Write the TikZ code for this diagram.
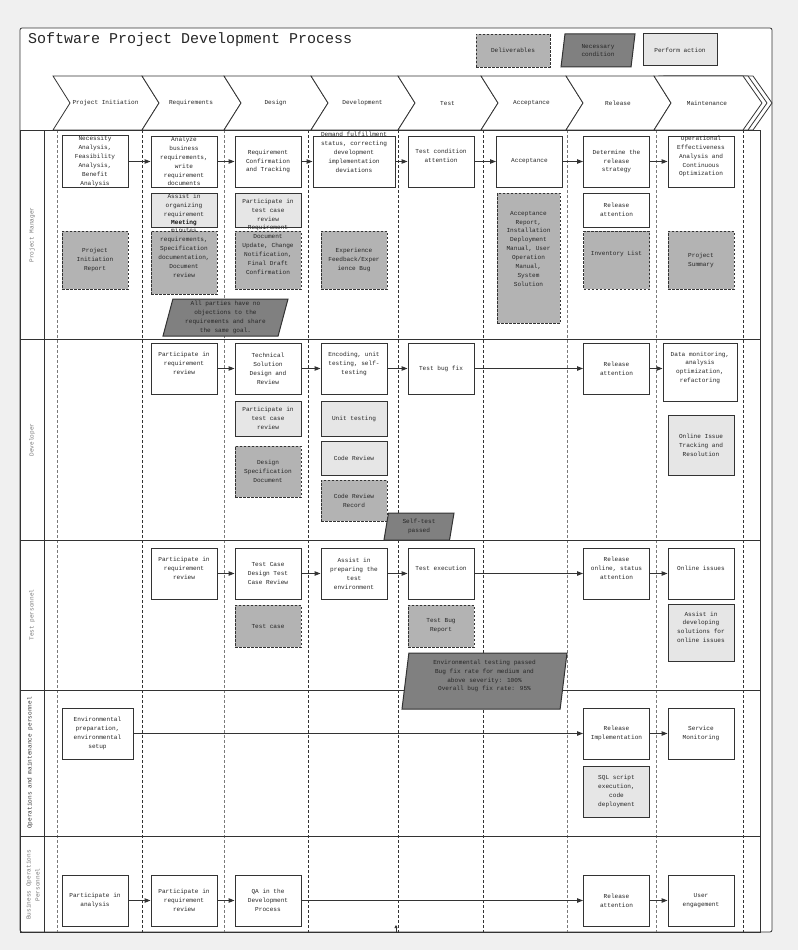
\documentclass[tikz,border=0pt]{standalone}
\usepackage{fontspec}
\setmainfont{Liberation Mono}
\usetikzlibrary{arrows.meta,positioning,shapes.geometric}
\definecolor{linegray}{HTML}{333333}
\definecolor{txtgray}{HTML}{262626}
\definecolor{lanegray}{HTML}{7A7A7A}
\definecolor{softgray}{HTML}{E6E6E6}
\definecolor{delivgray}{HTML}{B3B3B3}
\definecolor{condgray}{HTML}{808080}
\definecolor{pagegray}{HTML}{F0F0F0}
\newcommand{\boxfont}{\fontsize{6.1pt}{8.9pt}\selectfont}
\newcommand{\titlefont}{\fontsize{15pt}{18pt}\selectfont}
\tikzset{
  action/.style={
    rectangle,
    draw=linegray,
    fill=white,
    line width=1pt,
    align=center,
    minimum width=66pt,
    minimum height=51pt,
    inner sep=0.5pt,
    text=txtgray,
    font=\boxfont
  },
  assist/.style={action, fill=softgray},
  deliver/.style={action, fill=delivgray, line width=0.8pt, dash pattern=on 2.5pt off 1.5pt},
  cond/.style={
    trapezium,
    trapezium left angle=73,
    trapezium right angle=107,
    trapezium stretches body,
    draw=linegray,
    fill=condgray,
    line width=1pt,
    align=center,
    inner sep=0pt,
    text=black!85,
    font=\boxfont
  },
  nudge/.style={text depth=#1},
  line/.style={-{Triangle[length=6pt,width=4.5pt]}, line width=1pt, draw=linegray},
  phasebox/.style={draw=linegray, fill=white, line width=0.8pt},
  phasetext/.style={font=\boxfont, text=txtgray},
  laneframe/.style={draw=linegray, line width=1pt},
  lanedash/.style={line width=0.7pt, dash pattern=on 3pt off 2pt},
  lanelabel/.style={rotate=90, font=\boxfont, text=lanegray, align=center}
}
\begin{document}
\begin{tikzpicture}[x=1pt,y=-1pt]
  \useasboundingbox (0,0) rectangle (798,950);
  \fill[pagegray] (0,0) rectangle (798,950);
  \draw[draw=linegray, fill=white, line width=0.8pt, rounded corners=2pt] (20,28) rectangle (772,932);

  % phases
  \foreach \l/\r/\nm/\txt in {53/142/init/Project Initiation, 142/224/req/Requirements, 224/311/des/Design, 311/398/dev/Development, 398/481/test/Test, 481/566/acc/Acceptance, 566/654/rel/Release}
  {
    \draw[phasebox] (\l,76) -- (\r,76) -- ({\r+17},103) -- (\r,130) -- (\l,130) -- ({\l+17},103) -- cycle;
    \node[phasetext] (ph-\nm) at ({(\l+\r)/2+8},103) {\txt};
  }
  \foreach \dx in {10,5,0}
    \draw[phasebox] ({654+\dx},76) -- ({743+\dx},76) -- ({762+\dx},103) -- ({743+\dx},130) -- ({654+\dx},130) -- ({671+\dx},103) -- cycle;
  \node[phasetext] (ph-main) at (707,103) {Maintenance};

  % lanes
  \foreach \x/\c in {57/lanegray, 142/linegray, 224/lanegray, 308/linegray, 398/linegray, 483/linegray, 567/lanegray, 656/lanegray, 743/linegray}
    \draw[lanedash, draw=\c] (\x,130) -- (\x,932);
  \draw[laneframe] (20,130) rectangle (760,932);
  \draw[laneframe] (44,130) -- (44,932);
  \foreach \y in {339,540,690,836}
    \draw[laneframe] (20,\y) -- (760,\y);

  \node[lanelabel] (lane-pm) at (32,235) {Project Manager};
  \node[lanelabel] (lane-dev) at (32,440) {Developer};
  \node[lanelabel] (lane-test) at (32,615) {Test personnel};
  \node[lanelabel, text=linegray] (lane-ops) at (30,763) {Operations and maintenance personnel};
  \node[lanelabel] (lane-bus) at (33,885) {Business Operations\\Personnel};

  % project manager
  \node[action] (nec) at (95,161.5) {Necessity\\Analysis,\\Feasibility\\Analysis,\\Benefit\\Analysis};
  \node[action] (anareq) at (184,161.5) {Analyze\\business\\requirements,\\write\\requirement\\documents};
  \node[action] (reqconf) at (268,161.5) {Requirement\\Confirmation\\and Tracking};
  \node[action, minimum width=82pt, text height=21.1pt] (demand) at (354,161.5) {Demand fulfillment\\status, correcting\\development\\implementation\\deviations};
  \node[action, nudge=10.6pt] (testcond) at (441,161.5) {Test condition\\attention};
  \node[action] (accept) at (529.5,161.5) {Acceptance};
  \node[action] (relstrat) at (616.5,161.5) {Determine the\\release\\strategy};
  \node[action, text height=30.1pt] (opeff) at (701,161.5) {Operational\\Effectiveness\\Analysis and\\Continuous\\Optimization};

  \node[assist, minimum height=34pt] (orgmeet) at (184,210) {Assist in\\organizing\\requirement\\Meeting};
  \node[assist, minimum height=34pt] (pmtcr) at (268,210) {Participate in\\test case\\review};
  \node[action, minimum height=34pt] (pmrelatt) at (616.5,210) {Release\\attention};

  \node[deliver, minimum height=58pt] (initrep) at (95,260) {Project\\Initiation\\Report};
  \node[deliver, minimum height=63pt, text height=29.9pt] (meetmin) at (184,262.5) {Meeting\\minutes\\requirements,\\Specification\\documentation,\\Document\\review};
  \node[deliver, minimum height=58pt, text height=29pt] (reqdoc) at (268,260) {Requirement\\Document\\Update, Change\\Notification,\\Final Draft\\Confirmation};
  \node[deliver, minimum height=58pt] (expfb) at (354,260) {Experience\\Feedback/Exper\\ience Bug};
  \node[deliver, minimum width=63pt, minimum height=130pt, text height=56.7pt] (accrep) at (528.5,258) {Acceptance\\Report,\\Installation\\Deployment\\Manual, User\\Operation\\Manual,\\System\\Solution};
  \node[deliver, minimum height=58pt, nudge=13.6pt] (invlist) at (616.5,260) {Inventory List};
  \node[deliver, minimum height=58pt] (projsum) at (701,260) {Project\\Summary};

  \node[cond, minimum width=125pt, minimum height=37pt] (agree) at (225.5,317.5) {All parties have no\\objections to the\\requirements and share\\the same goal.};

  % developer
  \node[action, nudge=10.6pt] (devreq) at (184,368.5) {Participate in\\requirement\\review};
  \node[action] (techsol) at (268,368.5) {Technical\\Solution\\Design and\\Review};
  \node[action, nudge=10.6pt] (coding) at (354,368.5) {Encoding, unit\\testing, self-\\testing};
  \node[action] (bugfix) at (441,368.5) {Test bug fix};
  \node[action] (devrelatt) at (616.5,368.5) {Release\\attention};
  \node[action, minimum width=74pt, minimum height=58pt, nudge=9.6pt] (datamon) at (700,372) {Data monitoring,\\analysis\\optimization,\\refactoring};

  \node[assist, minimum height=35pt] (devtcr) at (268,418.5) {Participate in\\test case\\review};
  \node[assist, minimum height=35pt] (unittest) at (354,418.5) {Unit testing};
  \node[assist, minimum height=34pt] (codereview) at (354,458) {Code Review};
  \node[deliver] (designspec) at (268,471.5) {Design\\Specification\\Document};
  \node[deliver, minimum height=41pt] (crrecord) at (354,500.5) {Code Review\\Record};
  \node[assist, minimum height=60pt] (onlinetrack) at (701,445) {Online Issue\\Tracking and\\Resolution};

  \node[cond, minimum width=70pt, minimum height=27pt] (selftest) at (419,526.5) {Self-test\\passed};

  % test personnel
  \node[action, nudge=10.6pt] (testreq) at (184,573.5) {Participate in\\requirement\\review};
  \node[action] (tcdesign) at (268,573.5) {Test Case\\Design Test\\Case Review};
  \node[action] (testenv) at (354,573.5) {Assist in\\preparing the\\test\\environment};
  \node[action, nudge=10.6pt] (testexec) at (441,573.5) {Test execution};
  \node[action, nudge=10.6pt] (relonline) at (616.5,573.5) {Release\\online, status\\attention};
  \node[action, nudge=10.6pt] (onlineiss) at (701,573.5) {Online issues};

  \node[deliver, minimum height=42pt] (testcase) at (268,626) {Test case};
  \node[deliver, minimum height=42pt] (bugrep) at (441,626) {Test Bug\\Report};
  \node[assist, minimum height=57pt, nudge=10.6pt] (assistdev) at (701,632.5) {Assist in\\developing\\solutions for\\online issues};

  \node[cond, minimum width=165pt, minimum height=56pt, text height=21.2pt] (envpass) at (484.5,681) {Environmental testing passed\\Bug fix rate for medium and\\above severity: 100\%\\Overall bug fix rate: 95\%};

  % operations and maintenance
  \node[action, minimum width=71pt] (envprep) at (97.5,733.5) {Environmental\\preparation,\\environmental\\setup};
  \node[action] (relimpl) at (616.5,733.5) {Release\\Implementation};
  \node[action] (svcmon) at (701,733.5) {Service\\Monitoring};
  \node[assist] (sqlexec) at (616.5,791.5) {SQL script\\execution,\\code\\deployment};

  % business operations
  \node[action] (busana) at (95,900.5) {Participate in\\analysis};
  \node[action] (busreq) at (184,900.5) {Participate in\\requirement\\review};
  \node[action] (busqa) at (268,900.5) {QA in the\\Development\\Process};
  \node[action] (busrel) at (616.5,900.5) {Release\\attention};
  \node[action] (userengage) at (701,900.5) {User\\engagement};

  % flows
  \foreach \a/\b in {nec/anareq, anareq/reqconf, reqconf/demand, demand/testcond, testcond/accept, accept/relstrat, relstrat/opeff,
                     devreq/techsol, techsol/coding, coding/bugfix, bugfix/devrelatt,
                     testreq/tcdesign, tcdesign/testenv, testenv/testexec, testexec/relonline, relonline/onlineiss,
                     envprep/relimpl, relimpl/svcmon,
                     busana/busreq, busreq/busqa, busqa/busrel, busrel/userengage}
    \draw[line] (\a) -- (\b);
  \draw[line] (devrelatt.east) -- (devrelatt.east -| datamon.west);

  \coordinate (mark-a) at (396,932);
  \coordinate (mark-b) at (396,925);
  \draw[-{Triangle[length=3pt,width=3pt]}, draw=linegray, line width=0.6pt] (mark-a) -- (mark-b);

  % legend
  \node[deliver, minimum width=74pt, minimum height=33pt] (key-deliv) at (513,50.5) {Deliverables};
  \node[cond, minimum width=74pt, minimum height=33pt] (key-cond) at (598,50.5) {Necessary\\condition};
  \node[assist, minimum width=74pt, minimum height=32pt] (key-act) at (680,50) {Perform action};

  \node[anchor=west, font=\titlefont, text=txtgray, inner sep=0pt] (title) at (28,40) {Software Project Development Process};
\end{tikzpicture}
\end{document}
